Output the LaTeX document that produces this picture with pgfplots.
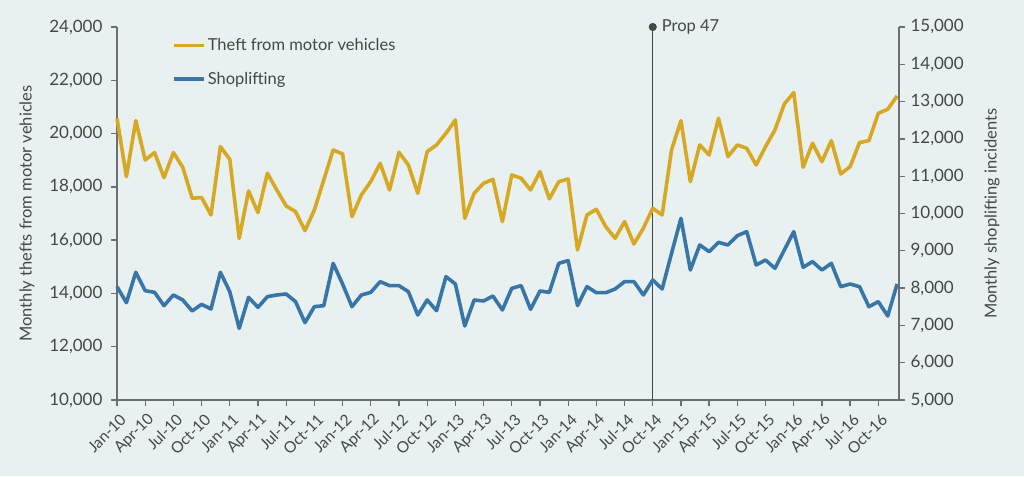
\documentclass[border=0pt]{standalone}
\usepackage{pgfplots}
\pgfplotsset{compat=1.18}
\usepackage{fontspec}
\setmainfont{Lato}
\definecolor{bg}{RGB}{233,240,240}
\definecolor{gold}{RGB}{214,168,35}
\definecolor{sblue}{RGB}{56,118,168}
\definecolor{axgrey}{RGB}{110,110,110}
\definecolor{txt}{RGB}{70,70,70}

\pgfplotstableread{
i v
0 20575
1 18383
2 20486
3 19010
4 19285
5 18347
6 19285
7 18735
8 17571
9 17600
10 16945
11 19510
12 19035
13 16069
14 17846
15 17032
16 18509
17 17883
18 17283
19 17070
20 16357
21 17133
22 18259
23 19385
24 19235
25 16882
26 17696
27 18196
28 18884
29 17883
30 19297
31 18822
32 17758
33 19322
34 19573
35 20011
36 20511
37 16820
38 17758
39 18134
40 18284
41 16695
42 18447
43 18322
44 17883
45 18572
46 17546
47 18196
48 18296
49 15631
50 16945
51 17158
52 16507
53 16069
54 16695
55 15856
56 16445
57 17195
58 16945
59 19385
60 20486
61 18196
62 19573
63 19197
64 20574
65 19135
66 19573
67 19447
68 18822
69 19510
70 20136
71 21112
72 21537
73 18735
74 19635
75 18947
76 19736
77 18484
78 18760
79 19661
80 19736
81 20762
82 20912
83 21412
}\theft

\pgfplotstableread{
i v
0 8038
1 7609
2 8423
3 7931
4 7886
5 7529
6 7815
7 7681
8 7386
9 7565
10 7440
11 8423
12 7904
13 6921
14 7752
15 7484
16 7770
17 7815
18 7842
19 7636
20 7073
21 7502
22 7529
23 8664
24 8110
25 7502
26 7815
27 7886
28 8173
29 8066
30 8066
31 7904
32 7279
33 7681
34 7395
35 8307
36 8110
37 6984
38 7681
39 7655
40 7788
41 7413
42 7994
43 8066
44 7431
45 7922
46 7886
47 8664
48 8736
49 7529
50 8038
51 7877
52 7877
53 7976
54 8173
55 8173
56 7815
57 8217
58 7976
59 8932
60 9871
61 8485
62 9156
63 8977
64 9227
65 9156
66 9406
67 9513
68 8619
69 8753
70 8530
71 9021
72 9513
73 8557
74 8709
75 8485
76 8664
77 8038
78 8110
79 8038
80 7502
81 7636
82 7252
83 8110
}\shop

\begin{document}
\begin{tikzpicture}
\fill[bg] (-117pt,-76pt) rectangle (907pt,400pt);
\useasboundingbox (-117pt,-76pt) rectangle (907pt,400pt);
\pgfplotsset{
  every axis/.append style={
    scale only axis, width=782pt, height=373pt,
    at={(0pt,0pt)}, anchor=south west,
    xmin=0, xmax=83.2, clip=false,
    axis line style={axgrey, line width=1.3pt, -},
    tick style={axgrey, line width=1.3pt},
    major tick length=6pt, tick align=outside,
    scaled y ticks=false,
    ticklabel style={font=\fontsize{17}{20}\selectfont, text=txt},
    label style={font=\fontsize{16.5}{20}\selectfont, text=txt},
    /pgf/number format/1000 sep={,},
    /pgf/number format/assume math mode=true,
  },
}
\begin{axis}[
  axis x line*=bottom, axis y line*=left,
  ymin=10000, ymax=24000, ytick={10000,12000,...,24000},
  xtick={0,3,...,81},
  xticklabels={Jan-10,Apr-10,Jul-10,Oct-10,Jan-11,Apr-11,Jul-11,Oct-11,Jan-12,Apr-12,Jul-12,Oct-12,Jan-13,Apr-13,Jul-13,Oct-13,Jan-14,Apr-14,Jul-14,Oct-14,Jan-15,Apr-15,Jul-15,Oct-15,Jan-16,Apr-16,Jul-16,Oct-16},
  xticklabel style={xshift=7pt, yshift=-10pt, rotate=45, anchor=east, inner sep=1pt, font=\fontsize{15.5}{18}\selectfont},
  yticklabel style={xshift=-5pt},
  ylabel={Monthly thefts from motor vehicles},
  ylabel style={at={(axis description cs:-0.115,0.5)}, anchor=center, rotate=0},
]
\addplot[txt, line width=1.1pt, mark=*, mark size=3.5pt, mark indices={2}, mark options={fill=txt, draw=txt}] coordinates {(57,10000) (57,24000)};
\node[anchor=west, text=txt, font=\fontsize{16.5}{20}\selectfont] at (axis cs:57.6,24000) {Prop 47};
\addplot[gold, line width=3.6pt, line join=round] table[x=i, y=v] {\theft};
\end{axis}
\begin{axis}[
  axis x line=none, axis y line*=right,
  ymin=5000, ymax=15000, ytick={5000,6000,...,15000},
  yticklabel style={xshift=2pt},
  ylabel={Monthly shoplifting incidents},
  ylabel style={at={(axis description cs:1.119,0.5)}, anchor=center, rotate=0},
  legend style={draw=none, fill=none, at={(55/782,0.975)}, anchor=north west,
    font=\fontsize{16.5}{20}\selectfont, text=txt, row sep=16pt, inner sep=0pt},
  legend cell align=left,
  legend image code/.code={\draw[#1] (0pt,0pt) -- (30pt,0pt);},
]
\addlegendimage{gold, line width=3.6pt}
\addlegendentry{Theft from motor vehicles}
\addplot[sblue, line width=3.6pt, line join=round] table[x=i, y=v] {\shop};
\addlegendentry{Shoplifting}
\end{axis}
\end{tikzpicture}
\end{document}
